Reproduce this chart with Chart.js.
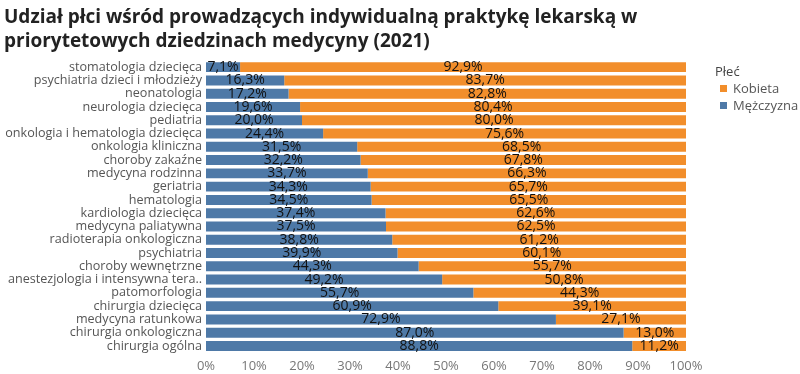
<!DOCTYPE html>
<html>
<head>
<meta charset="utf-8">
<script src="https://cdn.jsdelivr.net/npm/chart.js@4/dist/chart.umd.min.js"></script>
<style>
  html, body { margin: 0; padding: 0; background: #fff; overflow: hidden; }
  #wrap { width: 800px; height: 374px; position: relative; }
  #legend { position: absolute; left: 715px; top: 63px; font-family: "Open Sans"; font-size: 13px; color: #555; line-height: 17px; white-space: nowrap; }
  #legend .ttl { color: #444; }
  #legend .it { position: relative; padding-left: 18px; height: 17px; }
  #legend .sw { position: absolute; left: 5px; top: 5px; width: 7px; height: 7px; }
</style>
</head>
<body>
<div id="wrap">
  <canvas id="mycanvas"></canvas>
  <div id="legend"></div>
</div>
<script>
var categories = [
  'stomatologia dziecięca', 'psychiatria dzieci i młodzieży', 'neonatologia',
  'neurologia dziecięca', 'pediatria', 'onkologia i hematologia dziecięca',
  'onkologia kliniczna', 'choroby zakaźne', 'medycyna rodzinna', 'geriatria',
  'hematologia', 'kardiologia dziecięca', 'medycyna paliatywna',
  'radioterapia onkologiczna', 'psychiatria', 'choroby wewnętrzne',
  'anestezjologia i intensywna tera..', 'patomorfologia', 'chirurgia dziecięca',
  'medycyna ratunkowa', 'chirurgia onkologiczna', 'chirurgia ogólna'
];
var mezczyzna = [7.1, 16.3, 17.2, 19.6, 20.0, 24.4, 31.5, 32.2, 33.7, 34.3, 34.5,
  37.4, 37.5, 38.8, 39.9, 44.3, 49.2, 55.7, 60.9, 72.9, 87.0, 88.8];
var kobieta = [92.9, 83.7, 82.8, 80.4, 80.0, 75.6, 68.5, 67.8, 66.3, 65.7, 65.5,
  62.6, 62.5, 61.2, 60.1, 55.7, 50.8, 44.3, 39.1, 27.1, 13.0, 11.2];
var xTicks = [0, 10, 20, 30, 40, 50, 60, 70, 80, 90, 100];
var colMezczyzna = '#4e79a7';
var colKobieta = '#f28e2b';

function fmt(v) {
  return v.toFixed(1).replace('.', ',') + '%';
}

// labels centred in every segment
var segLabels = {
  id: 'segLabels',
  afterDatasetsDraw: function(chart) {
    var ctx = chart.ctx;
    ctx.save();
    ctx.font = '14px "Open Sans"';
    ctx.fillStyle = '#111';
    ctx.textAlign = 'center';
    ctx.textBaseline = 'middle';
    chart.data.datasets.forEach(function(ds, di) {
      var meta = chart.getDatasetMeta(di);
      meta.data.forEach(function(bar, i) {
        ctx.fillText(fmt(ds.data[i]), (bar.x + bar.base) / 2, bar.y);
      });
    });
    ctx.restore();
  }
};

var ctx = document.getElementById('mycanvas');
var chart = new Chart(ctx, {
  type: 'bar',
  data: {
    labels: categories,
    datasets: [
      {
        label: 'Mężczyzna',
        data: mezczyzna,
        backgroundColor: colMezczyzna,
        barPercentage: 0.75,
        categoryPercentage: 1.0
      },
      {
        label: 'Kobieta',
        data: kobieta,
        backgroundColor: colKobieta,
        barPercentage: 0.75,
        categoryPercentage: 1.0
      }
    ]
  },
  options: {
    indexAxis: 'y',
    responsive: true,
    maintainAspectRatio: false,
    animation: false,
    layout: { padding: { left: 4, right: 114, top: 0, bottom: 0 } },
    scales: {
      x: {
        stacked: true,
        min: 0,
        max: 100,
        grid: { display: false, drawTicks: false, tickLength: 0 },
        border: { display: false },
        afterBuildTicks: function(axis) {
          axis.ticks = xTicks.map(function(v) { return { value: v }; });
        },
        afterFit: function(axis) { axis.height = 21.4; },
        ticks: {
          color: '#777',
          font: { family: 'Open Sans', size: 13 },
          padding: 6,
          maxRotation: 0,
          callback: function(v) { return v + '%'; }
        }
      },
      y: {
        stacked: true,
        grid: { display: false, drawTicks: false, tickLength: 0 },
        border: { display: false },
        afterFit: function(axis) { axis.width = 202; },
        ticks: {
          color: '#555',
          font: { family: 'Open Sans', size: 12.6 },
          padding: 4,
          autoSkip: false
        }
      }
    },
    plugins: {
      title: {
        display: true,
        text: ['Udział płci wśród prowadzących indywidualną praktykę lekarską w',
               'priorytetowych dziedzinach medycyny (2021)'],
        align: 'start',
        color: '#222',
        font: { family: 'Open Sans', size: 19, weight: 'bold', lineHeight: 1.25 },
        padding: { top: 6, bottom: 7 }
      },
      legend: { display: false },
      tooltip: { enabled: false }
    }
  },
  plugins: [segLabels]
});

// legend, Kobieta first as in the original
var leg = document.getElementById('legend');
var html = '<div class="ttl">Płeć</div>';
[['Kobieta', colKobieta], ['Mężczyzna', colMezczyzna]].forEach(function(it) {
  html += '<div class="it"><span class="sw" style="background:' + it[1] + '"></span>' + it[0] + '</div>';
});
leg.innerHTML = html;
</script>
</body>
</html>
